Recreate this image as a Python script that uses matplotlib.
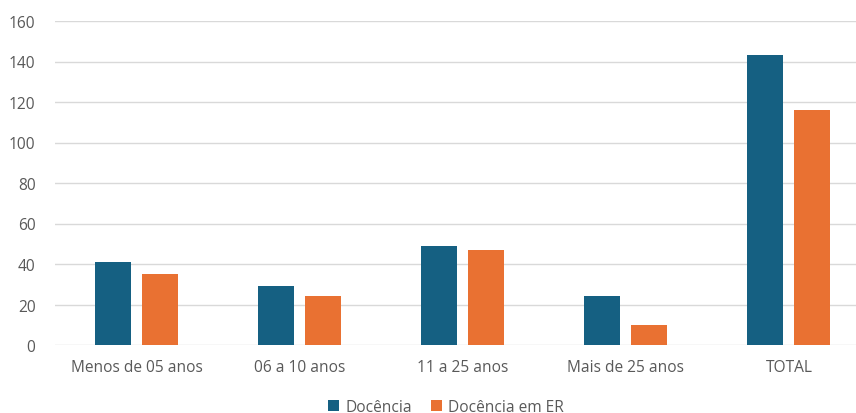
import numpy as np
import matplotlib
matplotlib.use("Agg")
import matplotlib.pyplot as plt

categories = ["Menos de 05 anos", "06 a 10 anos", "11 a 25 anos", "Mais de 25 anos", "TOTAL"]
docencia = [41, 29, 49, 24, 143]
docencia_er = [35, 24, 47, 10, 116]
series_names = ["Docência", "Docência em ER"]

plt.rcParams['font.family'] = ['Open Sans', 'DejaVu Sans']
txt = '#595959'

fig = plt.figure(figsize=(8.56, 4.14), dpi=100)
ax = fig.add_axes([55/856, 1-346/414, 1-55/856, (346-22)/414])

x = np.arange(len(categories))
w = 0.22
ax.bar(x - 0.147, docencia, w, color='#156082', label=series_names[0], zorder=3)
ax.bar(x + 0.143, docencia_er, w, color='#E97132', label=series_names[1], zorder=3)

ax.set_ylim(0, 160)
ax.set_yticks(range(0, 161, 20))
ax.set_xlim(-0.5, 4.41)
ax.set_xticks(x)
ax.set_xticklabels(categories)
ax.yaxis.grid(True, color='#d9d9d9', lw=1, zorder=0)
for s in ax.spines.values():
    s.set_visible(False)
ax.tick_params(length=0, labelsize=11.2, labelcolor=txt)
ax.tick_params(axis='y', pad=14)
ax.tick_params(axis='x', pad=10)

ax.legend(loc='center', bbox_to_anchor=(0.488, -0.19), ncol=2,
          frameon=False, fontsize=11.2, labelcolor=txt, handlelength=0.7,
          handleheight=0.7, handletextpad=0.4, columnspacing=1.2)

fig.savefig("out.png", dpi=100)
